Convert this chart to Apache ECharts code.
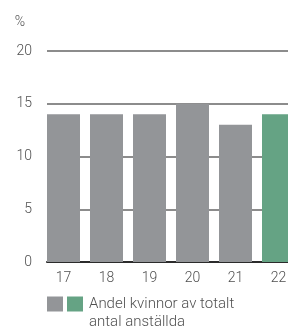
<!DOCTYPE html>
<html><head><meta charset="utf-8">
<script src="https://cdn.jsdelivr.net/npm/echarts@6/dist/echarts.min.js"></script>
<style>html,body{margin:0;padding:0;background:#fff}#c{width:288px;height:331px}</style>
</head><body><div id="c"></div>
<script>
const categories = ['17', '18', '19', '20', '21', '22'];
const previousYears = [14, 14, 14, 15, 13, null];
const currentYear = [null, null, null, null, null, 14];
const yTicks = [0, 5, 10, 15, 20];
const legendLabel = 'Andel kvinnor av totalt\nantal anställda';

const font = 'Roboto, "Noto Sans", sans-serif';
const txt = '#505050';
const chart = echarts.init(document.getElementById('c'), null, {renderer: 'canvas'});
chart.setOption({
  animation: false,
  textStyle: {fontFamily: font},
  grid: [
    {left: 42, width: 258, top: 51, height: 211, outerBoundsMode: 'none'},
    {left: 47, right: 0, top: 51, height: 211, outerBoundsMode: 'none'}
  ],
  xAxis: [
    {type: 'category', gridIndex: 0, data: categories,
     axisLine: {show: false}, axisTick: {show: false},
     axisLabel: {color: txt, fontSize: 14, fontFamily: font, fontWeight: 300, margin: 9}},
    {type: 'category', gridIndex: 1, data: categories,
     axisLine: {show: true, lineStyle: {color: '#2b2b2b', width: 2}},
     axisTick: {show: false}, axisLabel: {show: false}}
  ],
  yAxis: [
    {type: 'value', gridIndex: 0, min: yTicks[0], max: yTicks[yTicks.length-1], interval: 5,
     show: false, splitLine: {show: false}},
    {type: 'value', gridIndex: 1, min: yTicks[0], max: yTicks[yTicks.length-1], interval: 5,
     name: '%', nameLocation: 'end', nameGap: 22,
     nameTextStyle: {color: txt, fontSize: 14, fontFamily: font, fontWeight: 300, align: 'right', padding: [0, 22, 0, 0]},
     axisLine: {show: false}, axisTick: {show: false},
     axisLabel: {color: txt, fontSize: 14, fontFamily: font, fontWeight: 300, margin: 15},
     splitLine: {show: true, lineStyle: {color: '#666666', width: 1.5}}}
  ],
  legend: {
    left: 47, top: 277, itemWidth: 16, itemHeight: 15, itemGap: -2, icon: 'rect', padding: 0,
    data: ['previous', legendLabel],
    formatter: n => n === 'previous' ? '' : '\n' + n,
    textStyle: {color: txt, fontSize: 15, fontFamily: font, fontWeight: 300, lineHeight: 18, padding: [0, 0, 0, 1]}
  },
  series: [
    {name: 'previous', type: 'bar', xAxisIndex: 0, yAxisIndex: 0, data: previousYears,
     barWidth: 33, barGap: '-100%', itemStyle: {color: '#939598'}},
    {name: legendLabel, type: 'bar', xAxisIndex: 0, yAxisIndex: 0, data: currentYear,
     barWidth: 33, barGap: '-100%', itemStyle: {color: '#65a384'}}
  ]
});
</script></body></html>
